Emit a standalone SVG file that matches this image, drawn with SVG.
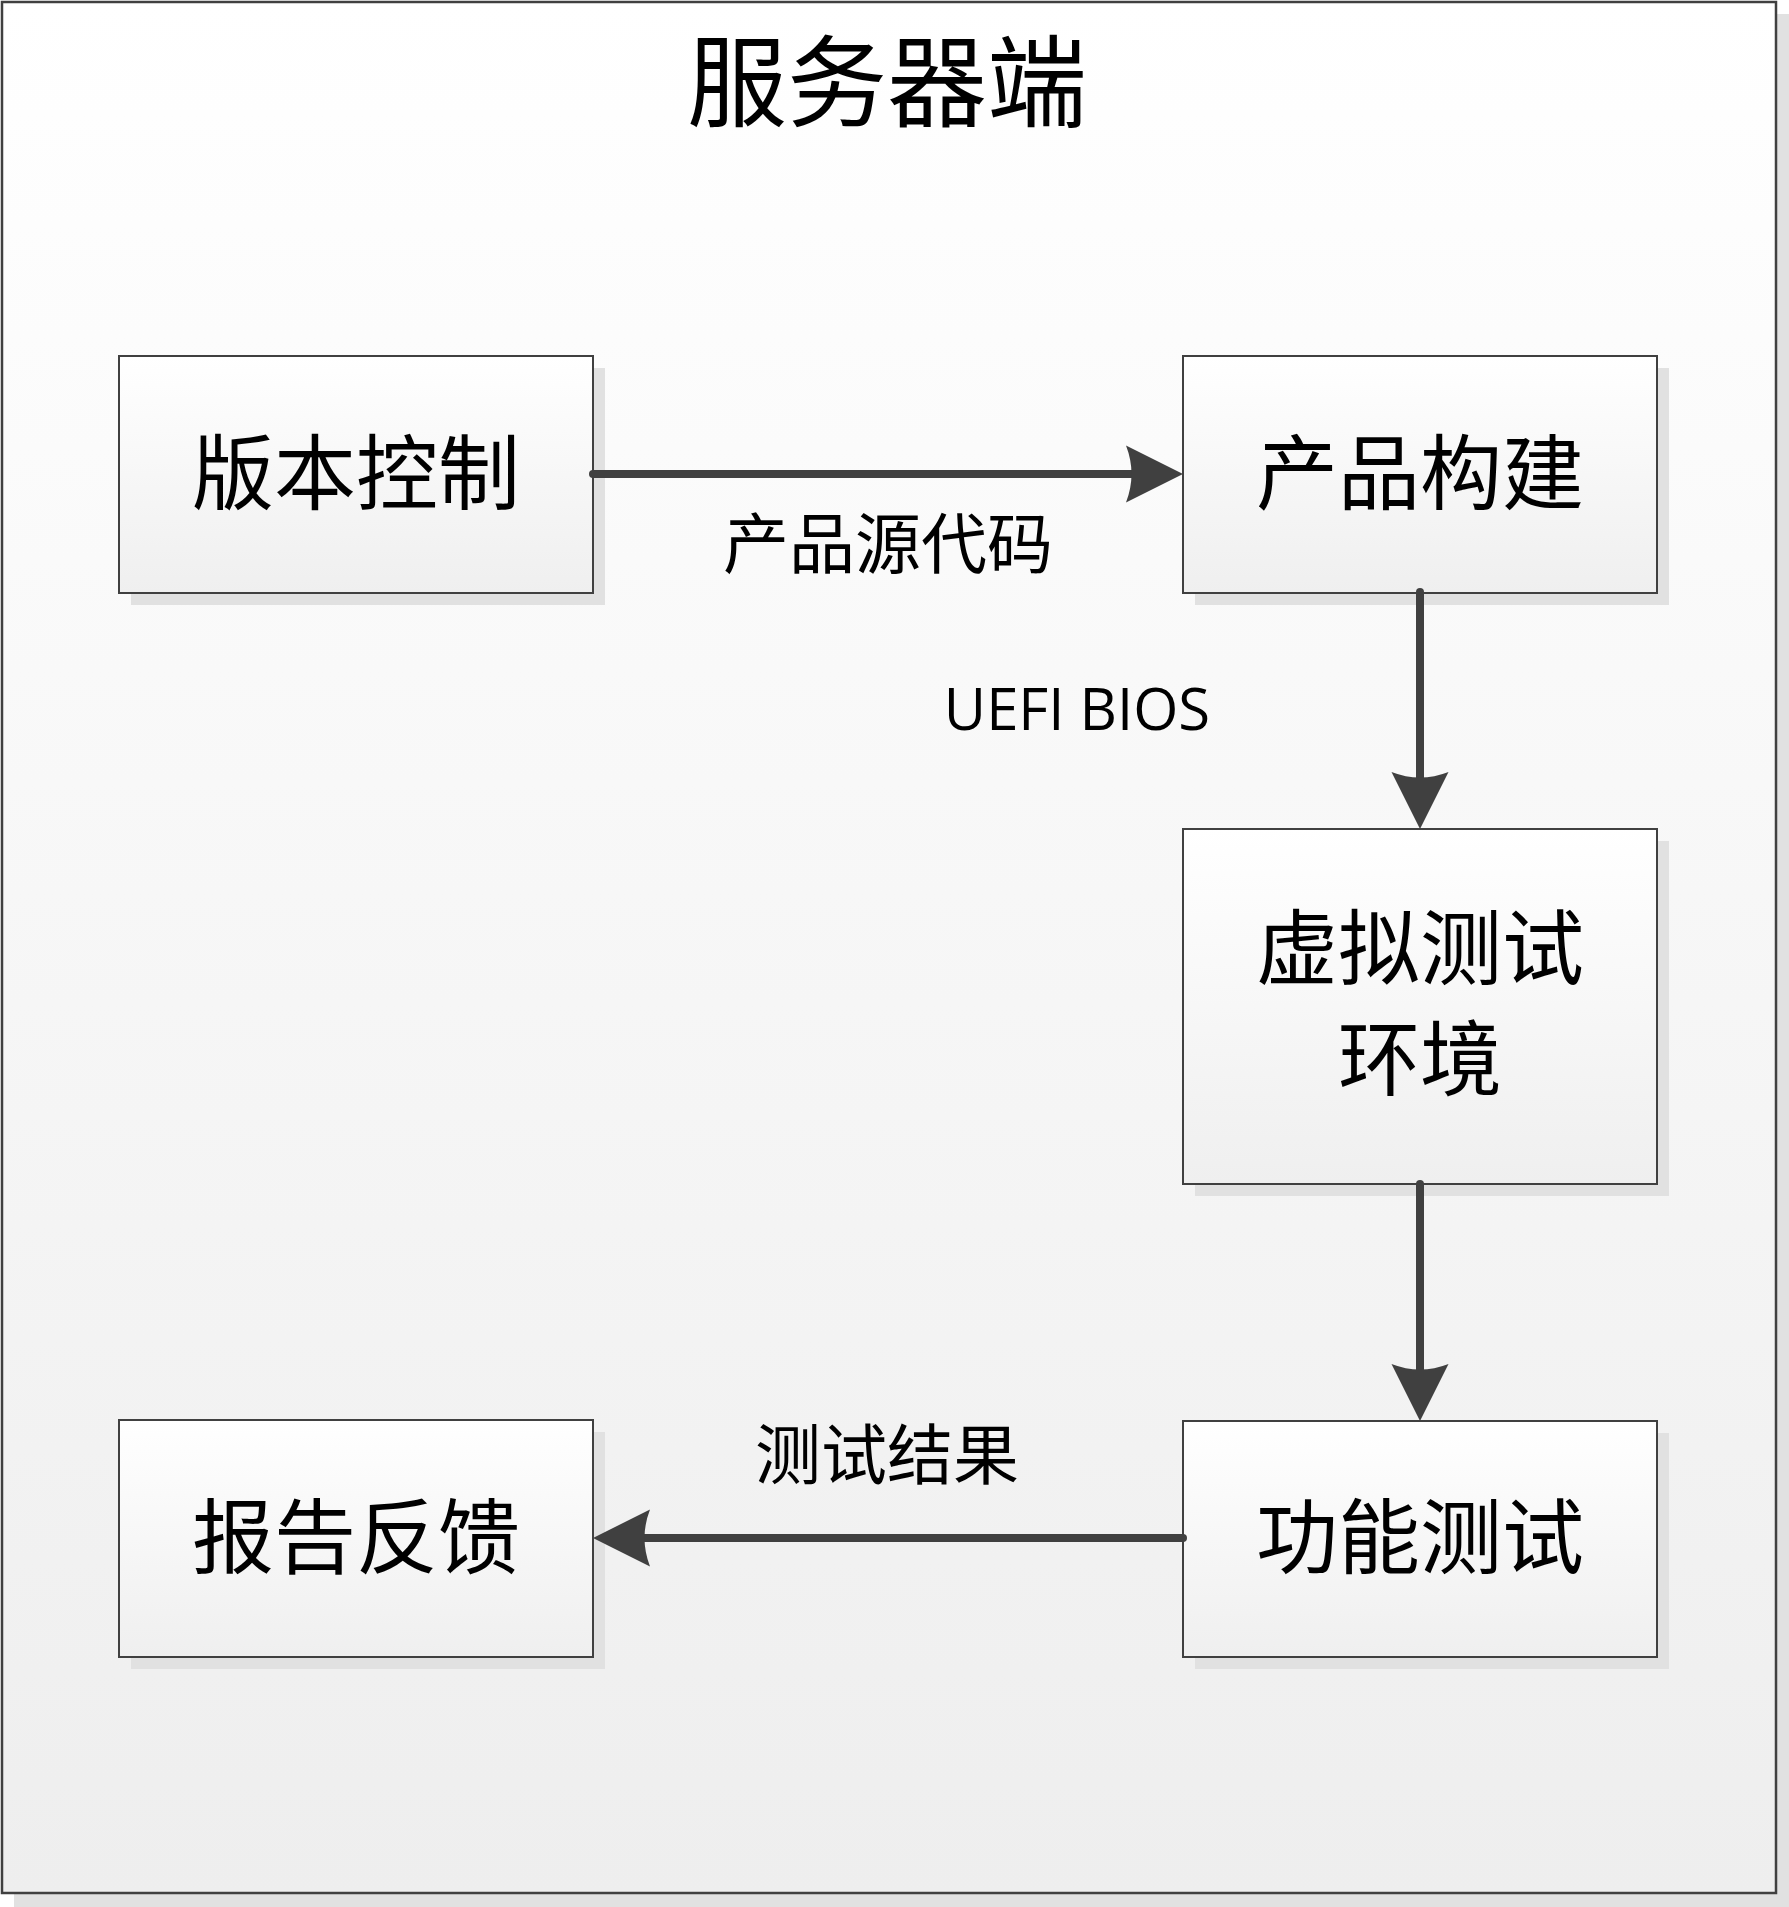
<svg xmlns="http://www.w3.org/2000/svg" width="1789" height="1907" viewBox="0 0 1789 1907">
<style>
.shadow{fill:#e1e1e1}
.box{fill:url(#gBox);stroke:#404040;stroke-width:2}
.frame{fill:url(#gFrame);stroke:#404040;stroke-width:2.5}
.cn{font-family:"Noto Sans CJK SC","Noto Sans CJK JP",sans-serif;fill:#000;text-anchor:middle;dominant-baseline:central}
.lbl{font-size:66px}
.node{font-size:82px}
.line{stroke:#404040;stroke-width:8;fill:none;stroke-linecap:round}
.head{fill:#404040}
</style>
<defs>
<linearGradient id="gBox" x1="0" y1="0" x2="0" y2="1">
<stop offset="0" stop-color="#ffffff"/>
<stop offset="1" stop-color="#efefef"/>
</linearGradient>
<linearGradient id="gFrame" x1="0" y1="0" x2="0" y2="1">
<stop offset="0" stop-color="#ffffff"/>
<stop offset="1" stop-color="#eeeeee"/>
</linearGradient>
<path id="ah" d="M0,0 L-57,-28.5 Q-46,0 -57,28.5 Z"/>
</defs>

<g id="frame">
<rect class="shadow" x="14" y="14" width="1775" height="1893"/>
<rect class="frame" x="2" y="2" width="1774" height="1891"/>
<text class="cn" x="887" y="75" font-size="100">服务器端</text>
</g>

<g id="node-version">
<rect class="shadow" x="131" y="368" width="474" height="237"/>
<rect class="box" x="119" y="356" width="474" height="237"/>
<text class="cn node" x="356" y="467">版本控制</text>
</g>

<g id="node-build">
<rect class="shadow" x="1195" y="368" width="474" height="237"/>
<rect class="box" x="1183" y="356" width="474" height="237"/>
<text class="cn node" x="1420" y="467">产品构建</text>
</g>

<g id="node-virtual">
<rect class="shadow" x="1195" y="841" width="474" height="355"/>
<rect class="box" x="1183" y="829" width="474" height="355"/>
<text class="cn node" x="1420" y="942">虚拟测试</text>
<text class="cn node" x="1420" y="1053">环境</text>
</g>

<g id="node-func">
<rect class="shadow" x="1195" y="1433" width="474" height="236"/>
<rect class="box" x="1183" y="1421" width="474" height="236"/>
<text class="cn node" x="1420" y="1531">功能测试</text>
</g>

<g id="node-report">
<rect class="shadow" x="131" y="1432" width="474" height="237"/>
<rect class="box" x="119" y="1420" width="474" height="237"/>
<text class="cn node" x="356" y="1531">报告反馈</text>
</g>

<g id="connectors">
<line class="line" x1="593" y1="474" x2="1140" y2="474"/>
<use href="#ah" class="head" transform="translate(1183,474)"/>
<text class="cn lbl" x="888" y="539">产品源代码</text>

<line class="line" x1="1420" y1="592" x2="1420" y2="780"/>
<use href="#ah" class="head" transform="translate(1420,829) rotate(90)"/>
<text x="1077" y="730" font-family="'Open Sans',sans-serif" font-size="58" text-anchor="middle" fill="#000">UEFI BIOS</text>

<line class="line" x1="1420" y1="1184" x2="1420" y2="1375"/>
<use href="#ah" class="head" transform="translate(1420,1421) rotate(90)"/>

<line class="line" x1="1183" y1="1538" x2="640" y2="1538"/>
<use href="#ah" class="head" transform="translate(593,1538) rotate(180)"/>
<text class="cn lbl" x="887" y="1450">测试结果</text>
</g>
</svg>
